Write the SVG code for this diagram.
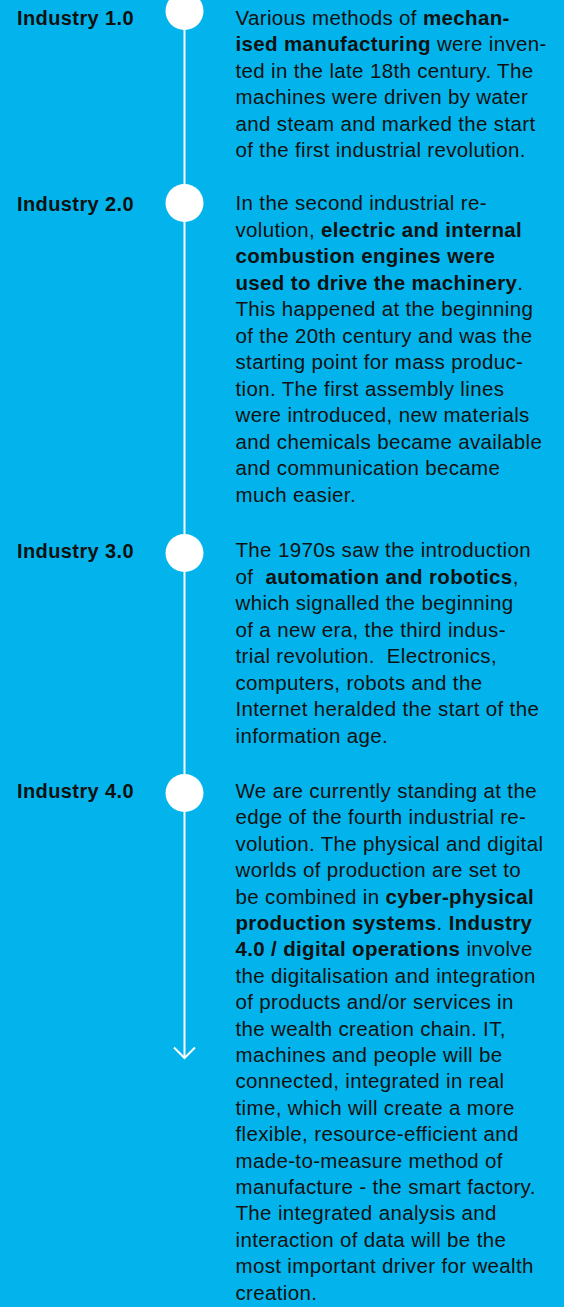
<svg xmlns="http://www.w3.org/2000/svg" width="564" height="1307" viewBox="0 0 564 1307">
<style>
.bg{fill:#02b4eb}
.lbl{font-family:"Liberation Sans",Arial,sans-serif;font-size:20px;font-weight:bold;letter-spacing:0.4px;fill:#111}
.body{font-family:"Liberation Sans",Arial,sans-serif;font-size:20.5px;letter-spacing:0.35px;fill:#111;white-space:pre}
.b{font-weight:bold}
.dot{fill:#fff}
.tl{stroke:#fff;stroke-width:2;fill:none}
</style>
<rect class="bg" x="0" y="0" width="564" height="1307"/>
<g id="connectors">
<line class="tl" x1="184.5" y1="0" x2="184.5" y2="1057"/>
<path class="tl" d="M174,1047.5 L184.5,1058 L195,1047.5"/>
</g>
<g id="industry1">
<circle class="dot" cx="184.5" cy="11" r="19"/>
<text class="lbl" x="17" y="25">Industry 1.0</text>
<text class="body" x="235.5" y="25">Various methods of <tspan class="b">mechan-</tspan></text>
<text class="body" x="235.5" y="51.4"><tspan class="b">ised manufacturing</tspan> were inven-</text>
<text class="body" x="235.5" y="77.8">ted in the late 18th century. The</text>
<text class="body" x="235.5" y="104.2">machines were driven by water</text>
<text class="body" x="235.5" y="130.6">and steam and marked the start</text>
<text class="body" x="235.5" y="157">of the first industrial revolution.</text>
</g>
<g id="industry2">
<circle class="dot" cx="184.5" cy="203" r="19"/>
<text class="lbl" x="17" y="211">Industry 2.0</text>
<text class="body" x="235.5" y="210">In the second industrial re-</text>
<text class="body" x="235.5" y="236.5">volution, <tspan class="b">electric and internal</tspan></text>
<text class="body" x="235.5" y="263"><tspan class="b">combustion engines were</tspan></text>
<text class="body" x="235.5" y="289.5"><tspan class="b">used to drive the machinery</tspan>.</text>
<text class="body" x="235.5" y="316">This happened at the beginning</text>
<text class="body" x="235.5" y="342.5">of the 20th century and was the</text>
<text class="body" x="235.5" y="369">starting point for mass produc-</text>
<text class="body" x="235.5" y="395.5">tion. The first assembly lines</text>
<text class="body" x="235.5" y="422">were introduced, new materials</text>
<text class="body" x="235.5" y="448.5">and chemicals became available</text>
<text class="body" x="235.5" y="475">and communication became</text>
<text class="body" x="235.5" y="501.5">much easier.</text>
</g>
<g id="industry3">
<circle class="dot" cx="184.5" cy="553" r="19"/>
<text class="lbl" x="17" y="558">Industry 3.0</text>
<text class="body" x="235.5" y="557">The 1970s saw the introduction</text>
<text class="body" x="235.5" y="583.5">of  <tspan class="b">automation and robotics</tspan>,</text>
<text class="body" x="235.5" y="610">which signalled the beginning</text>
<text class="body" x="235.5" y="636.5">of a new era, the third indus-</text>
<text class="body" x="235.5" y="663">trial revolution.  Electronics,</text>
<text class="body" x="235.5" y="689.5">computers, robots and the</text>
<text class="body" x="235.5" y="716">Internet heralded the start of the</text>
<text class="body" x="235.5" y="742.5">information age.</text>
</g>
<g id="industry4">
<circle class="dot" cx="184.5" cy="793" r="19"/>
<text class="lbl" x="17" y="798">Industry 4.0</text>
<text class="body" x="235.5" y="798">We are currently standing at the</text>
<text class="body" x="235.5" y="824.4">edge of the fourth industrial re-</text>
<text class="body" x="235.5" y="850.8">volution. The physical and digital</text>
<text class="body" x="235.5" y="877.2">worlds of production are set to</text>
<text class="body" x="235.5" y="903.6">be combined in <tspan class="b">cyber-physical</tspan></text>
<text class="body" x="235.5" y="930"><tspan class="b">production systems</tspan>. <tspan class="b">Industry</tspan></text>
<text class="body" x="235.5" y="956.4"><tspan class="b">4.0 / digital operations</tspan> involve</text>
<text class="body" x="235.5" y="982.8">the digitalisation and integration</text>
<text class="body" x="235.5" y="1009.2">of products and/or services in</text>
<text class="body" x="235.5" y="1035.6">the wealth creation chain. IT,</text>
<text class="body" x="235.5" y="1062">machines and people will be</text>
<text class="body" x="235.5" y="1088.4">connected, integrated in real</text>
<text class="body" x="235.5" y="1114.8">time, which will create a more</text>
<text class="body" x="235.5" y="1141.2">flexible, resource-efficient and</text>
<text class="body" x="235.5" y="1167.6">made-to-measure method of</text>
<text class="body" x="235.5" y="1194">manufacture - the smart factory.</text>
<text class="body" x="235.5" y="1220.4">The integrated analysis and</text>
<text class="body" x="235.5" y="1246.8">interaction of data will be the</text>
<text class="body" x="235.5" y="1273.2">most important driver for wealth</text>
<text class="body" x="235.5" y="1299.6">creation.</text>
</g>
</svg>
